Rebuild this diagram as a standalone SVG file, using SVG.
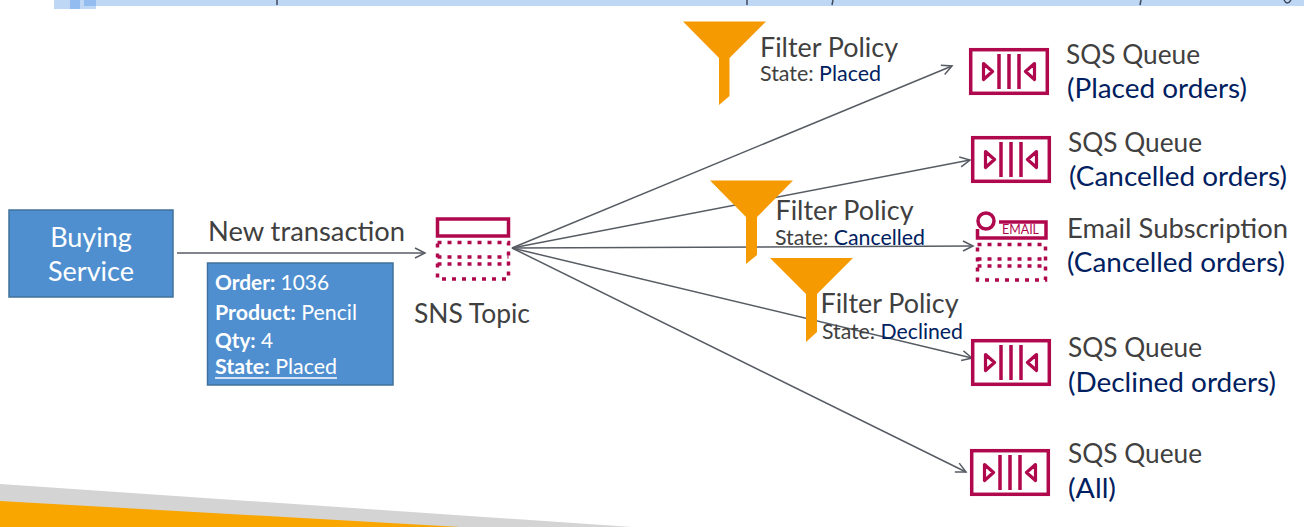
<svg xmlns="http://www.w3.org/2000/svg" width="1304" height="527" viewBox="0 0 1304 527">
<style>
text{font-family:"Lato","Open Sans","Liberation Sans",sans-serif;fill:#404040}
.big{font-size:27px}
.sm{font-size:21px}
.nv{fill:#002060}
.w{fill:#fff}
.ord{font-size:20.5px;fill:#fff}
.b{font-weight:700}
.box{fill:#4f8fd0;stroke:#41719c;stroke-width:1.5}
.con{fill:none;stroke:#575c64;stroke-width:1.5;marker-end:url(#a)}
.ic{fill:none;stroke:#b0084d;stroke-width:3.5}
.dot{fill:none;stroke:#b0084d;stroke-width:3.5;stroke-dasharray:4 6}
.tri{fill:none;stroke:#b0084d;stroke-width:3.2;stroke-linejoin:round}
.fun{fill:#f59a00}
</style>
<defs>
<marker id="a" markerWidth="14" markerHeight="14" refX="11" refY="6" orient="auto" markerUnits="userSpaceOnUse"><path d="M1 1L11 6L1 11" fill="none" stroke="#575c64" stroke-width="1.5"/></marker>
<g id="q">
<rect class="ic" x="971.700" y="49.700" width="76.600" height="43.600"/>
<path class="ic" d="M1000 54V89M1010 54V89M1020 54V89"/>
<path class="tri" d="M984.500 63.500L993.500 71.500L984.500 79.500ZM1035.500 63.500L1026.500 71.500L1035.500 79.500Z"/>
</g>
</defs>
<g id="decor">
<rect x="96" y="0" width="1208" height="6" fill="#bdd7f5"/>
<rect x="54" y="0" width="42" height="9" fill="#bdd7f5"/>
<rect x="70" y="0" width="10" height="9" fill="#93bdf0"/>
<rect x="84" y="0" width="12" height="6" fill="#93bdf0"/>
<path d="M277 0V5M747 0V5M833 0L832 5M1141 0L1140 5M1284 0Q1287 6 1291 0" fill="none" stroke="#404a5c" stroke-width="1.500"/>
<polygon points="0,484 632,527 0,527" fill="#d4d4d4"/>
<polygon points="0,501 460,527 0,527" fill="#f9a600"/>
</g>
<g id="connectors">
<path class="con" d="M177 253H425"/>
<path class="con" d="M512 248L952 66"/>
<path class="con" d="M512 248L970 160"/>
<path class="con" d="M512 248L973 246"/>
<path class="con" d="M512 248L972 358"/>
<path class="con" d="M512 248L966 472"/>
</g>
<g id="buying"><rect class="box" x="9" y="210" width="164" height="87"/>
<text class="big w" x="91" y="247" text-anchor="middle">Buying</text>
<text class="big w" x="91" y="281" text-anchor="middle">Service</text></g>
<g id="new-transaction"><text class="big" x="208" y="240.500" textLength="197" lengthAdjust="spacingAndGlyphs">New transaction</text></g>
<g id="message"><rect class="box" x="207.500" y="263" width="185.500" height="122"/>
<text class="ord" x="215" y="289.500" textLength="114" lengthAdjust="spacingAndGlyphs"><tspan class="b">Order:</tspan> 1036</text>
<text class="ord" x="215" y="319.500" textLength="142" lengthAdjust="spacingAndGlyphs"><tspan class="b">Product:</tspan> Pencil</text>
<text class="ord" x="215" y="347.500" textLength="58" lengthAdjust="spacingAndGlyphs"><tspan class="b">Qty:</tspan> 4</text>
<text class="ord" x="215" y="373.500" textLength="122" lengthAdjust="spacingAndGlyphs"><tspan class="b">State:</tspan> Placed</text>
<path d="M215 378H337" stroke="#fff" stroke-width="1.500"/></g>
<g id="sns-topic">
<rect class="ic" x="437.500" y="219" width="71" height="17"/>
<rect class="dot" x="437.500" y="242.500" width="71" height="36.500"/>
<path class="dot" d="M437.500 257H508.500M437.500 264H508.500"/>
<text class="big" x="414" y="323" textLength="116" lengthAdjust="spacingAndGlyphs">SNS Topic</text></g>
<g id="filter-placed"><polygon class="fun" points="683,21.500 766,21.500 729.500,58 729.500,96 719,105 719,58"/>
<text class="big" x="760" y="56.500" textLength="138" lengthAdjust="spacingAndGlyphs">Filter Policy</text>
<text class="sm" x="760" y="80.500" textLength="121" lengthAdjust="spacingAndGlyphs">State: <tspan class="nv">Placed</tspan></text></g>
<g id="filter-cancelled"><polygon class="fun" points="710,180.500 793,180.500 757,217 757,255 746,264 746,217"/>
<text class="big" x="775.500" y="219.500" textLength="138" lengthAdjust="spacingAndGlyphs">Filter Policy</text>
<text class="sm" x="775" y="244.500" textLength="150" lengthAdjust="spacingAndGlyphs">State: <tspan class="nv">Cancelled</tspan></text></g>
<g id="filter-declined"><polygon class="fun" points="770,258 853,258 817,294 817,332 806,342 806,294"/>
<text class="big" x="820.500" y="312.500" textLength="138" lengthAdjust="spacingAndGlyphs">Filter Policy</text>
<text class="sm" x="822" y="338.500" textLength="141" lengthAdjust="spacingAndGlyphs">State: <tspan class="nv">Declined</tspan></text></g>
<g id="sqs-placed"><use href="#q" x="-1"/>
<text class="big" x="1066" y="63.500" textLength="134" lengthAdjust="spacingAndGlyphs">SQS Queue</text>
<text class="big nv" x="1067" y="98" textLength="180" lengthAdjust="spacingAndGlyphs">(Placed orders)</text></g>
<g id="sqs-cancelled"><use href="#q" x="1" y="88"/>
<text class="big" x="1068" y="151.500" textLength="134" lengthAdjust="spacingAndGlyphs">SQS Queue</text>
<text class="big nv" x="1069" y="186" textLength="218" lengthAdjust="spacingAndGlyphs">(Cancelled orders)</text></g>
<g id="email-subscription">
<circle class="ic" cx="986" cy="221" r="8"/>
<path class="ic" d="M977.500 229V238H1046V222H999"/>
<text x="1002" y="234" font-size="13.500" style="fill:#b0084d" textLength="37" lengthAdjust="spacingAndGlyphs">EMAIL</text>
<rect class="dot" x="977.500" y="244.500" width="68" height="35.500"/>
<path class="dot" d="M977.500 259H1045.500M977.500 266H1045.500"/>
<text class="big" x="1067" y="237.500" textLength="221" lengthAdjust="spacingAndGlyphs">Email Subscription</text>
<text class="big nv" x="1067" y="272" textLength="218" lengthAdjust="spacingAndGlyphs">(Cancelled orders)</text></g>
<g id="sqs-declined"><use href="#q" x="1" y="291"/>
<text class="big" x="1068" y="356.500" textLength="134" lengthAdjust="spacingAndGlyphs">SQS Queue</text>
<text class="big nv" x="1068" y="391.500" textLength="208" lengthAdjust="spacingAndGlyphs">(Declined orders)</text></g>
<g id="sqs-all"><use href="#q" y="401"/>
<text class="big" x="1068" y="462.500" textLength="134" lengthAdjust="spacingAndGlyphs">SQS Queue</text>
<text class="big nv" x="1068" y="497.500" textLength="48" lengthAdjust="spacingAndGlyphs">(All)</text></g>
</svg>
